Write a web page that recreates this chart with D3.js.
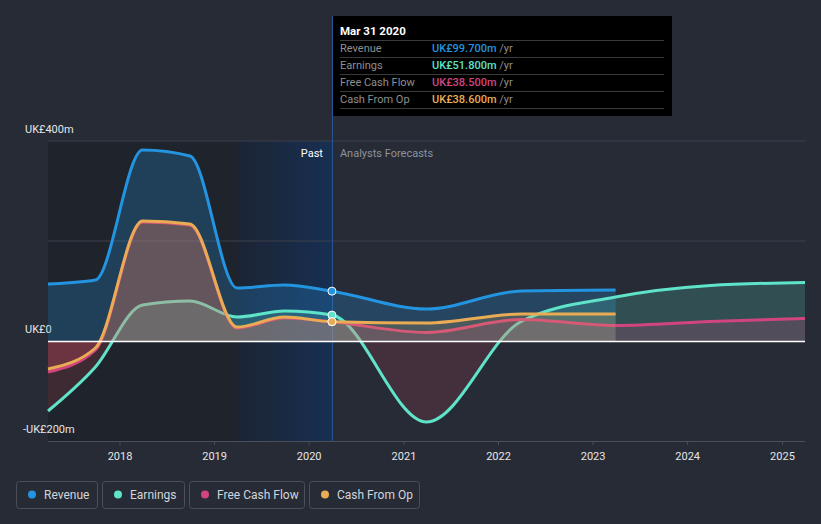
<!DOCTYPE html>
<html><head><meta charset="utf-8">
<script src="https://cdn.jsdelivr.net/npm/d3@7"></script>
<style>
html,body{margin:0;padding:0;background:#262b36;}
svg{display:block;font-family:Roboto,"Noto Sans",sans-serif;}
</style></head>
<body><svg id="c" width="821" height="524"></svg>
<script>
// ---- data ----
const pastDates = ["2017-03-31","2017-09-30","2018-03-31","2018-09-30","2019-03-31","2019-09-30","2020-03-31"];
const fcDates = ["2021-03-31","2022-03-31","2023-03-31","2024-03-31","2025-03-31"];
const revenue = [114,122,382,370,106,112,99.7, 64,100,102];
const earnings = [-140,-52,72,80,48,60,51.8, -162,39,88,111,117];
const freeCashFlow = [-62,-18,238,232,26,46,38.5, 17,43,31,39,45];
const cashFromOp = [-56,-14,240,234,28,48,38.6, 36,54,54];
const yTickValues = [400,0,-200];
const yTickLabels = ["UK£400m","UK£0","-UK£200m"];
const xTickYears = [2018,2019,2020,2021,2022,2023,2024,2025];
const seriesNames = ["Revenue","Earnings","Free Cash Flow","Cash From Op"];
const seriesColors = ["#2394df","#5fe3c9","#d1457f","#eaab55"];
const tooltipDate = "Mar 31 2020";
const tooltipValues = ["UK£99.700m","UK£51.800m","UK£38.500m","UK£38.600m"];

const parse = d3.timeParse("%Y-%m-%d");
const allDates = pastDates.concat(fcDates).map(parse);
const nowDate = parse("2020-03-31");
const pastHiStart = parse("2019-03-31");

const svg = d3.select("#c");
const x = d3.scaleTime().domain([parse("2017-03-31"), parse("2025-03-31")]).range([48,805]);
const y = d3.scaleLinear().domain([-200,400]).range([441,141]);

// past shading
const defs = svg.append("defs");
const g1 = defs.append("linearGradient").attr("id","pastHi").attr("x1","0").attr("x2","1").attr("y1","0").attr("y2","0");
g1.append("stop").attr("offset","0").attr("stop-color","#1c2434");
g1.append("stop").attr("offset","1").attr("stop-color","#172f52");
svg.append("rect").attr("x",x.range()[0]).attr("y",y(400)).attr("width",x(pastHiStart)-x.range()[0]).attr("height",y(-200)-y(400)).attr("fill","#1f232b");
svg.append("rect").attr("x",x(pastHiStart)).attr("y",y(400)).attr("width",x(nowDate)-x(pastHiStart)).attr("height",y(-200)-y(400)).attr("fill","url(#pastHi)");

// grid
[400,200].forEach(v=>{
  svg.append("line").attr("x1",48).attr("x2",805).attr("y1",y(v)).attr("y2",y(v)).attr("stroke","#3c414c").attr("stroke-width",1);
});

// y labels
yTickValues.forEach((v,i)=>{
  svg.append("text").attr("x", v<0?23:25).attr("y",y(v)-8).attr("fill","#e6e6e6").attr("font-size",11).text(yTickLabels[i]);
});

// x axis
const xAxis = d3.axisBottom(x).tickValues(xTickYears.map(yy=>new Date(yy,0,1))).tickFormat(d3.timeFormat("%Y")).tickSize(4).tickPadding(7);
const ax = svg.append("g").attr("transform",`translate(0,${y(-200)})`).call(xAxis);
ax.select(".domain").attr("stroke","#4a4f5a").attr("d","M48,0.5H805");
ax.selectAll(".tick line").attr("stroke","#4a4f5a");
ax.selectAll(".tick text").attr("fill","#e6e6e6").attr("font-size",11).attr("font-family","Roboto,sans-serif");

// vertical now line
svg.append("line").attr("x1",x(nowDate)+0.5).attr("x2",x(nowDate)+0.5).attr("y1",16).attr("y2",441).attr("stroke","#2a5a9a").attr("stroke-width",1);

// labels Past / Analysts Forecasts
svg.append("text").attr("x",x(nowDate)-9).attr("y",157).attr("text-anchor","end").attr("fill","#ffffff").attr("font-size",11).text("Past");
svg.append("text").attr("x",x(nowDate)+8).attr("y",157).attr("fill","#8d929b").attr("font-size",11).text("Analysts Forecasts");

const series = [revenue, earnings, freeCashFlow, cashFromOp];
const curve = d3.curveMonotoneX;
series.forEach((vals,i)=>{
  const data = vals.map((v,j)=>({d:allDates[j], v}));
  const col = seriesColors[i];
  const posOp = i===0?0.25:0.2;
  const clipP = "clipP"+i, clipN = "clipN"+i;
  defs.append("clipPath").attr("id",clipP).append("rect").attr("x",0).attr("y",0).attr("width",821).attr("height",y(0));
  defs.append("clipPath").attr("id",clipN).append("rect").attr("x",0).attr("y",y(0)).attr("width",821).attr("height",524-y(0));
  const area = d3.area().x(d=>x(d.d)).y0(y(0)).y1(d=>y(d.v)).curve(curve);
  svg.append("path").datum(data).attr("d",area).attr("fill",col).attr("fill-opacity",posOp).attr("clip-path",`url(#${clipP})`);
  svg.append("path").datum(data).attr("d",area).attr("fill","#d85060").attr("fill-opacity",0.17).attr("clip-path",`url(#${clipN})`);
  const line = d3.line().x(d=>x(d.d)).y(d=>y(d.v)).curve(curve);
  svg.append("path").datum(data).attr("d",line).attr("fill","none").attr("stroke",col).attr("stroke-width",3).attr("stroke-linejoin","round");
});

// zero line
svg.append("line").attr("x1",48).attr("x2",805).attr("y1",y(0)+0.5).attr("y2",y(0)+0.5).attr("stroke","#ffffff").attr("stroke-width",1.5);

// dots at now
[0,1,2,3].forEach(i=>{
  const v = series[i][pastDates.length-1];
  svg.append("circle").attr("cx",x(nowDate)).attr("cy",y(v)).attr("r",4).attr("fill",seriesColors[i]).attr("stroke","#ffffff").attr("stroke-width",1);
});

// tooltip
const tt = svg.append("g");
tt.append("rect").attr("x",333).attr("y",16).attr("width",339).attr("height",100).attr("fill","#000000");
tt.append("text").attr("x",340).attr("y",35).attr("fill","#ffffff").attr("font-size",11.5).attr("font-weight","bold").text(tooltipDate);
[40,57,74,91,108].forEach(yy=>{
  tt.append("line").attr("x1",340).attr("x2",664).attr("y1",yy+0.5).attr("y2",yy+0.5).attr("stroke","#3a3a3a");
});
seriesNames.forEach((n,i)=>{
  const yy = 52+17*i;
  tt.append("text").attr("x",340).attr("y",yy).attr("fill","#8f8f8f").attr("font-size",11).text(n);
  const t = tt.append("text").attr("x",432).attr("y",yy).attr("font-size",11);
  t.append("tspan").attr("fill",seriesColors[i]).attr("font-weight","500").text(tooltipValues[i]);
  t.append("tspan").attr("fill","#8f8f8f").text(" /yr");
});

// legend
const legX = [16,102,189,309], legW = [81,82,115,110];
seriesNames.forEach((n,i)=>{
  const g = svg.append("g");
  g.append("rect").attr("x",legX[i]+0.5).attr("y",481.5).attr("width",legW[i]).attr("height",27).attr("rx",3).attr("fill","none").attr("stroke","#4a4f5a");
  g.append("circle").attr("cx",legX[i]+16).attr("cy",494.5).attr("r",4).attr("fill",seriesColors[i]);
  g.append("text").attr("x",legX[i]+28).attr("y",499).attr("fill","#d2d5da").attr("font-size",12).text(n);
});
</script></body></html>
